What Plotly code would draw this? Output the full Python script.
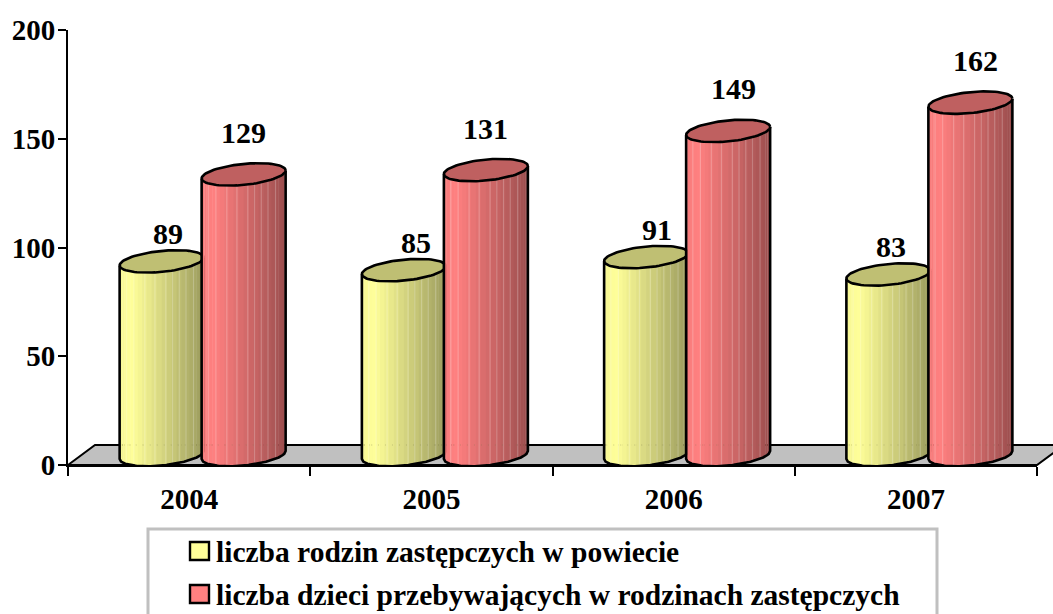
import math
import plotly.graph_objects as go

categories = ["2004", "2005", "2006", "2007"]
families = [89, 85, 91, 83]
children = [129, 131, 149, 162]
series_names = ["liczba rodzin zastępczych w powiecie",
                "liczba dzieci przebywających w rodzinach zastępczych"]

W, H = 1053, 614
L, R, T, B = 68, 16, 30, 149
PW, PH = W - L - R, H - T - B
UX = PW / 4.0      # px per category
UY = PH / 200.0    # px per value unit
FONT = "Liberation Serif"
FS = 29


def px(x):
    return (x - L) / PW


def py(y):
    return (T + PH - y) / PH


def lerp(a, b, f):
    return tuple(a[i] + (b[i] - a[i]) * f for i in range(3))


def shade(light, dark, f):
    if f < 0.12:
        c = lerp(lerp(light, dark, 0.08), light, f / 0.12)
    else:
        c = lerp(light, dark, (f - 0.12) / 0.88)
    return "rgb(%d,%d,%d)" % tuple(round(v) for v in c)


STRIPS = 26
A = 42.0 / UX
BPX = 10.5 / UY
TILT = 4.0 / UY
BASE = 4.6
STREAKS = [0.08, 0.17, 0.30, 0.42, 0.55, 0.63, 0.71, 0.79, 0.88]
FLOOR_DY = 20 / UY


def edge(cx, cy, u):
    return cx + A * u, cy + TILT * u - BPX * math.sqrt(max(0, 1 - u * u))


fig = go.Figure()


def cylinder(cx, value, light, dark, cap):
    top = value + BASE
    for i in range(STRIPS):
        t0 = math.pi - math.pi * i / STRIPS
        t1 = max(math.pi - math.pi * (i + 1.15) / STRIPS, 0)
        ts = [t0 + (t1 - t0) * k / 3 for k in range(4)]
        us = [math.cos(t) for t in ts]
        xs_b, ys_b = zip(*[edge(cx, BASE, u) for u in us])
        xs_t, ys_t = zip(*[edge(cx, top, u) for u in us])
        f = (us[0] + 1) / 2
        fig.add_trace(go.Scatter(
            x=list(xs_b) + list(xs_t[::-1]) + [xs_b[0]],
            y=list(ys_b) + list(ys_t[::-1]) + [ys_b[0]],
            mode="lines", fill="toself", fillcolor=shade(light, dark, f),
            line=dict(width=0), showlegend=False, hoverinfo="skip",
            cliponaxis=False))
    # pale streaks from the banded gradient
    sx, sy = [], []
    for f in STREAKS:
        u = 2 * f - 1
        xb, yb = edge(cx, BASE, u)
        xt, yt = edge(cx, top, u)
        sx += [xb, xt, None]
        sy += [yb, yt, None]
    fig.add_trace(go.Scatter(
        x=sx, y=sy, mode="lines", line=dict(color="rgba(255,255,255,0.22)", width=1.2),
        showlegend=False, hoverinfo="skip", cliponaxis=False))
    # faint speckle where the floor's back edge shows through
    fig.add_trace(go.Scatter(
        x=[cx - A * 0.95, cx + A * 0.95], y=[FLOOR_DY, FLOOR_DY], mode="lines",
        line=dict(color="rgba(120,120,80,0.35)", width=1, dash="1px,6px"),
        showlegend=False, hoverinfo="skip", cliponaxis=False))
    n = 60
    us = [-1 + 2 * k / n for k in range(n + 1)]
    bx, by = zip(*[edge(cx, BASE, u) for u in us])
    fig.add_trace(go.Scatter(
        x=[cx - A] + list(bx) + [cx + A],
        y=[top - TILT] + list(by) + [top + TILT],
        mode="lines", line=dict(color="black", width=2.6), showlegend=False,
        hoverinfo="skip", cliponaxis=False))
    ex, ey = [], []
    for k in range(81):
        t = 2 * math.pi * k / 80
        ex.append(cx + A * math.cos(t))
        ey.append(top + TILT * math.cos(t) + BPX * math.sin(t))
    fig.add_trace(go.Scatter(
        x=ex, y=ey, mode="lines", fill="toself", fillcolor=cap,
        line=dict(color="black", width=2.6), showlegend=False,
        hoverinfo="skip", cliponaxis=False))


OFFSET = 13.5 / UX
SEP = 41.0 / UX
YL, YD, YC = (255, 255, 153), (153, 153, 92), "#BFBF73"
RL, RD, RC = (255, 128, 128), (153, 77, 77), "#BF6060"
for s, (vals, light, dark, cap, sign) in enumerate(
        [(families, YL, YD, YC, -1), (children, RL, RD, RC, 1)]):
    for i, v in enumerate(vals):
        cylinder(i + OFFSET + sign * SEP, v, light, dark, cap)

label_dx = [[6, 12, 11, 3], [0, 0, 5, 5]]
label_dy = [28, 42]
for s, vals in enumerate([families, children]):
    sign = -1 if s == 0 else 1
    for i, v in enumerate(vals):
        fig.add_annotation(
            x=i + OFFSET + sign * SEP, y=v + BASE, text=str(v), showarrow=False,
            xshift=label_dx[s][i], yshift=label_dy[s],
            font=dict(family=FONT, size=30, color="black", weight="bold"))

# floor, legend box, swatches and texts
shapes = [dict(type="path", xref="paper", yref="paper", layer="below",
               path="M %f,%f L %f,%f L %f,%f L %f,%f Z" % (
                   px(68), py(465), px(95), py(445), px(1064), py(445), px(1037), py(465)),
               fillcolor="#C0C0C0", line=dict(color="black", width=2)),
          dict(type="rect", xref="paper", yref="paper",
               x0=px(148), x1=px(937), y0=py(625), y1=py(529),
               line=dict(color="#C0C0C0", width=3), fillcolor="rgba(0,0,0,0)")]
for name, col, y0 in zip(series_names, ["#FFFF99", "#FF8080"], [542, 585]):
    shapes.append(dict(type="rect", xref="paper", yref="paper",
                       x0=px(190), x1=px(209), y0=py(y0 + 18), y1=py(y0),
                       line=dict(color="black", width=2.4), fillcolor=col))
    fig.add_annotation(xref="paper", yref="paper", x=px(214), y=py(y0 + 10),
                       xanchor="left", yanchor="middle", text=name, showarrow=False,
                       font=dict(family=FONT, size=29.5, color="black", weight="bold"))

fig.update_layout(
    width=W, height=H, autosize=False, showlegend=False,
    margin=dict(l=L, r=R, t=T, b=B, pad=0),
    paper_bgcolor="white", plot_bgcolor="rgba(0,0,0,0)",
    font=dict(family=FONT, size=FS, color="black", weight="bold"),
    xaxis=dict(range=[-0.5, 3.5], showgrid=False, zeroline=False, automargin=False,
               tickvals=[0, 1, 2, 3], ticktext=categories, ticks="",
               showline=True, linecolor="black", linewidth=2,
               ticklabelstandoff=7,
               minor=dict(tickvals=[-0.5, 0.5, 1.5, 2.5, 3.5], ticks="outside",
                          ticklen=9, tickwidth=2, tickcolor="black")),
    yaxis=dict(range=[0, 200], tickvals=[0, 50, 100, 150, 200], showgrid=False,
               zeroline=False, automargin=False, ticks="outside", ticklen=8, tickwidth=2,
               ticklabelstandoff=-3,
               tickcolor="black", showline=True, linecolor="black", linewidth=2),
    shapes=shapes,
)
fig.write_html("out.html", config=dict(displayModeBar=False),
               post_script="document.body.style.margin='0';document.body.style.overflow='hidden';")
